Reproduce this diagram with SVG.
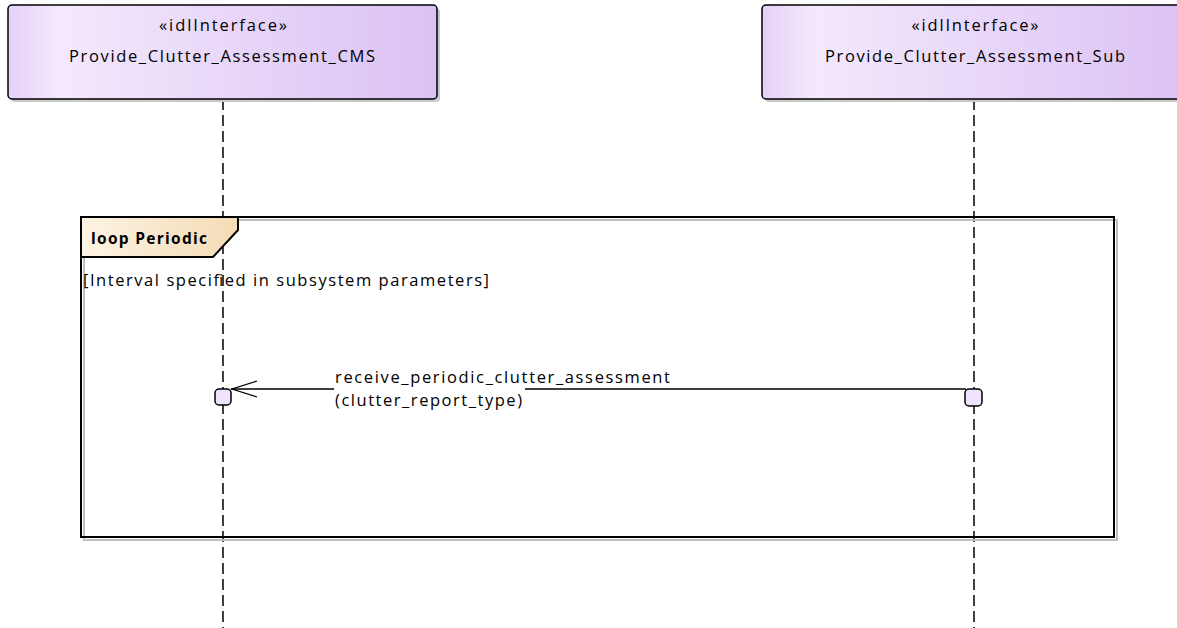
<svg xmlns="http://www.w3.org/2000/svg" width="1177" height="628" viewBox="0 0 1177 628">
<style>
.t{font-family:"Open Sans","Liberation Sans",sans-serif;font-size:16.5px;fill:#000}
.b{font-weight:bold;font-size:15.5px}
.node{stroke:#000;stroke-width:1.5}
.shadow{fill:#c8c8c8}
.life{stroke:#000;stroke-width:1.5;stroke-dasharray:11,5;fill:none}
.msg{stroke:#000;stroke-width:1.3;fill:none}
</style>
<defs>
<linearGradient id="g" x1="0" y1="0" x2="1" y2="0">
<stop offset="0" stop-color="#e5d0f8"/>
<stop offset="0.12" stop-color="#f3e9fd"/>
<stop offset="1" stop-color="#dbc1f4"/>
</linearGradient>
<linearGradient id="lg" x1="0" y1="0" x2="1" y2="0">
<stop offset="0" stop-color="#fdf3e4"/>
<stop offset="1" stop-color="#f4dbb5"/>
</linearGradient>
</defs>
<g id="connectors">
<line class="life" x1="223" y1="99" x2="223" y2="628"/>
<line class="life" x1="974" y1="99" x2="974" y2="628"/>
</g>
<g id="loop">
<rect x="84" y="220" width="1033" height="320" fill="none" stroke="#c0c0c0" stroke-width="2"/>
<rect x="81" y="217" width="1033" height="320" fill="none" stroke="#000" stroke-width="2"/>
<path d="M81,217 H238 V230 L213,257 H81 Z" fill="url(#lg)" stroke="#000" stroke-width="2"/>
<text class="t b" x="91" y="244" textLength="116">loop Periodic</text>
<text class="t" x="83" y="286" textLength="406">[Interval specified in subsystem parameters]</text>
</g>
<g id="CMS">
<rect class="shadow" x="11" y="8" width="429" height="94" rx="4"/>
<rect class="node" x="8" y="5" width="429" height="94" rx="4" fill="url(#g)"/>
<text class="t" x="223" y="31" text-anchor="middle" textLength="128">«idlInterface»</text>
<text class="t" x="222" y="62" text-anchor="middle" textLength="306">Provide_Clutter_Assessment_CMS</text>
</g>
<g id="Sub">
<rect class="shadow" x="765" y="8" width="429" height="94" rx="4"/>
<rect class="node" x="762" y="5" width="429" height="94" rx="4" fill="url(#g)"/>
<text class="t" x="975" y="31" text-anchor="middle" textLength="127">«idlInterface»</text>
<text class="t" x="975" y="62" text-anchor="middle" textLength="300">Provide_Clutter_Assessment_Sub</text>
</g>
<g id="message">
<line class="msg" x1="231" y1="389" x2="334" y2="389"/>
<line class="msg" x1="525" y1="389" x2="966" y2="389"/>
<polyline class="msg" points="257,381 232,389 257,397"/>
<text class="t" x="335" y="383" textLength="335">receive_periodic_clutter_assessment</text>
<text class="t" x="335" y="406" textLength="187">(clutter_report_type)</text>
</g>
<g id="act1">
<rect x="215" y="389" width="16" height="16" rx="4" fill="#efe4fc" stroke="#000" stroke-width="1.5"/>
</g>
<g id="act2">
<rect x="965" y="389" width="17" height="17" rx="4" fill="#efe4fc" stroke="#000" stroke-width="1.5"/>
</g>
</svg>
